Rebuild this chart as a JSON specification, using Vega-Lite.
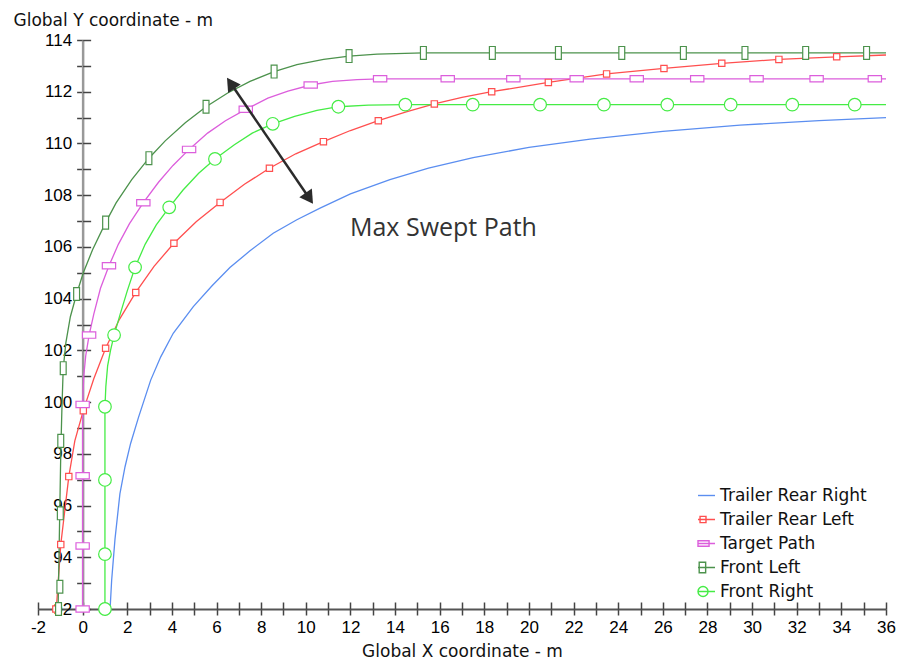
{
  "$schema": "https://vega.github.io/schema/vega-lite/v6.json",
  "width": 848,
  "height": 569,
  "autosize": {"type": "none"},
  "padding": {"left": 38, "top": 40, "right": 17, "bottom": 53},
  "background": "white",
  "config": {
    "view": {"stroke": null},
    "axis": {"grid": false, "labelFont": "Liberation Sans", "labelFontSize": 17, "labelColor": "#000", "titleFont": "DejaVu Sans", "titleFontSize": 17, "titleFontWeight": "normal", "titleColor": "#111"}
  },
  "datasets": {
    "paths": [
      {"s": "Trailer Rear Right", "x": 1.23, "y": 92},
      {"s": "Trailer Rear Right", "x": 1.3, "y": 93.1},
      {"s": "Trailer Rear Right", "x": 1.45, "y": 94.7},
      {"s": "Trailer Rear Right", "x": 1.67, "y": 96.45},
      {"s": "Trailer Rear Right", "x": 1.9, "y": 97.5},
      {"s": "Trailer Rear Right", "x": 2.15, "y": 98.4},
      {"s": "Trailer Rear Right", "x": 2.5, "y": 99.4},
      {"s": "Trailer Rear Right", "x": 3.05, "y": 100.85},
      {"s": "Trailer Rear Right", "x": 3.5, "y": 101.75},
      {"s": "Trailer Rear Right", "x": 4.06, "y": 102.66},
      {"s": "Trailer Rear Right", "x": 4.96, "y": 103.69},
      {"s": "Trailer Rear Right", "x": 5.8, "y": 104.5},
      {"s": "Trailer Rear Right", "x": 6.6, "y": 105.2},
      {"s": "Trailer Rear Right", "x": 7.5, "y": 105.85},
      {"s": "Trailer Rear Right", "x": 8.54, "y": 106.53},
      {"s": "Trailer Rear Right", "x": 9.6, "y": 107.05},
      {"s": "Trailer Rear Right", "x": 10.64, "y": 107.5},
      {"s": "Trailer Rear Right", "x": 12.0, "y": 108.05},
      {"s": "Trailer Rear Right", "x": 13.77, "y": 108.6},
      {"s": "Trailer Rear Right", "x": 15.5, "y": 109.05},
      {"s": "Trailer Rear Right", "x": 17.5, "y": 109.45},
      {"s": "Trailer Rear Right", "x": 20.0, "y": 109.85},
      {"s": "Trailer Rear Right", "x": 22.74, "y": 110.17},
      {"s": "Trailer Rear Right", "x": 26.0, "y": 110.47},
      {"s": "Trailer Rear Right", "x": 29.46, "y": 110.71},
      {"s": "Trailer Rear Right", "x": 33.0, "y": 110.88},
      {"s": "Trailer Rear Right", "x": 36.0, "y": 111.0},

      {"s": "Trailer Rear Left", "x": -1.18, "y": 92},
      {"s": "Trailer Rear Left", "x": -0.98, "y": 94.49},
      {"s": "Trailer Rear Left", "x": -0.62, "y": 97.12},
      {"s": "Trailer Rear Left", "x": -0.35, "y": 98.5},
      {"s": "Trailer Rear Left", "x": 0.03, "y": 99.67},
      {"s": "Trailer Rear Left", "x": 0.5, "y": 100.9},
      {"s": "Trailer Rear Left", "x": 1.03, "y": 102.08},
      {"s": "Trailer Rear Left", "x": 1.65, "y": 103.2},
      {"s": "Trailer Rear Left", "x": 2.38, "y": 104.24},
      {"s": "Trailer Rear Left", "x": 3.2, "y": 105.25},
      {"s": "Trailer Rear Left", "x": 4.09, "y": 106.14},
      {"s": "Trailer Rear Left", "x": 5.1, "y": 106.98},
      {"s": "Trailer Rear Left", "x": 6.16, "y": 107.72},
      {"s": "Trailer Rear Left", "x": 7.25, "y": 108.42},
      {"s": "Trailer Rear Left", "x": 8.37, "y": 109.04},
      {"s": "Trailer Rear Left", "x": 9.55, "y": 109.6},
      {"s": "Trailer Rear Left", "x": 10.79, "y": 110.07},
      {"s": "Trailer Rear Left", "x": 12.0, "y": 110.5},
      {"s": "Trailer Rear Left", "x": 13.25, "y": 110.88},
      {"s": "Trailer Rear Left", "x": 14.5, "y": 111.22},
      {"s": "Trailer Rear Left", "x": 15.76, "y": 111.53},
      {"s": "Trailer Rear Left", "x": 17.0, "y": 111.78},
      {"s": "Trailer Rear Left", "x": 18.33, "y": 112.0},
      {"s": "Trailer Rear Left", "x": 20.87, "y": 112.36},
      {"s": "Trailer Rear Left", "x": 23.48, "y": 112.69},
      {"s": "Trailer Rear Left", "x": 26.05, "y": 112.9},
      {"s": "Trailer Rear Left", "x": 28.64, "y": 113.1},
      {"s": "Trailer Rear Left", "x": 31.2, "y": 113.25},
      {"s": "Trailer Rear Left", "x": 33.79, "y": 113.35},
      {"s": "Trailer Rear Left", "x": 36.0, "y": 113.42},

      {"s": "Target Path", "x": 0, "y": 92},
      {"s": "Target Path", "x": 0, "y": 100.0},
      {"s": "Target Path", "x": 0.05, "y": 101.0},
      {"s": "Target Path", "x": 0.14, "y": 101.8},
      {"s": "Target Path", "x": 0.29, "y": 102.59},
      {"s": "Target Path", "x": 0.5, "y": 103.4},
      {"s": "Target Path", "x": 0.8, "y": 104.4},
      {"s": "Target Path", "x": 1.18, "y": 105.27},
      {"s": "Target Path", "x": 1.6, "y": 106.1},
      {"s": "Target Path", "x": 2.1, "y": 106.9},
      {"s": "Target Path", "x": 2.72, "y": 107.71},
      {"s": "Target Path", "x": 3.4, "y": 108.5},
      {"s": "Target Path", "x": 4.05, "y": 109.15},
      {"s": "Target Path", "x": 4.77, "y": 109.77},
      {"s": "Target Path", "x": 5.6, "y": 110.4},
      {"s": "Target Path", "x": 6.4, "y": 110.88},
      {"s": "Target Path", "x": 7.31, "y": 111.32},
      {"s": "Target Path", "x": 8.3, "y": 111.75},
      {"s": "Target Path", "x": 9.2, "y": 112.02},
      {"s": "Target Path", "x": 10.22, "y": 112.26},
      {"s": "Target Path", "x": 11.2, "y": 112.4},
      {"s": "Target Path", "x": 12.3, "y": 112.47},
      {"s": "Target Path", "x": 13.33, "y": 112.5},
      {"s": "Target Path", "x": 36.0, "y": 112.5},

      {"s": "Front Left", "x": -1.1, "y": 92},
      {"s": "Front Left", "x": -1.07, "y": 93.5},
      {"s": "Front Left", "x": -1.04, "y": 95.0},
      {"s": "Front Left", "x": -1.01, "y": 96.5},
      {"s": "Front Left", "x": -0.98, "y": 98.0},
      {"s": "Front Left", "x": -0.93, "y": 99.7},
      {"s": "Front Left", "x": -0.87, "y": 101.3},
      {"s": "Front Left", "x": -0.75, "y": 102.3},
      {"s": "Front Left", "x": -0.55, "y": 103.3},
      {"s": "Front Left", "x": -0.27, "y": 104.18},
      {"s": "Front Left", "x": 0.03, "y": 105.0},
      {"s": "Front Left", "x": 0.45, "y": 105.9},
      {"s": "Front Left", "x": 1.03, "y": 106.94},
      {"s": "Front Left", "x": 1.5, "y": 107.7},
      {"s": "Front Left", "x": 2.2, "y": 108.6},
      {"s": "Front Left", "x": 2.97, "y": 109.43},
      {"s": "Front Left", "x": 3.7, "y": 110.1},
      {"s": "Front Left", "x": 4.6, "y": 110.8},
      {"s": "Front Left", "x": 5.53, "y": 111.42},
      {"s": "Front Left", "x": 6.5, "y": 111.95},
      {"s": "Front Left", "x": 7.5, "y": 112.4},
      {"s": "Front Left", "x": 8.58, "y": 112.78},
      {"s": "Front Left", "x": 9.6, "y": 113.05},
      {"s": "Front Left", "x": 10.8, "y": 113.25},
      {"s": "Front Left", "x": 11.94, "y": 113.38},
      {"s": "Front Left", "x": 13.2, "y": 113.45},
      {"s": "Front Left", "x": 15.27, "y": 113.5},
      {"s": "Front Left", "x": 36.0, "y": 113.5},

      {"s": "Front Right", "x": 1.0, "y": 92},
      {"s": "Front Right", "x": 1.0, "y": 99.8},
      {"s": "Front Right", "x": 1.04, "y": 100.6},
      {"s": "Front Right", "x": 1.12, "y": 101.4},
      {"s": "Front Right", "x": 1.25, "y": 102.0},
      {"s": "Front Right", "x": 1.41, "y": 102.59},
      {"s": "Front Right", "x": 1.7, "y": 103.45},
      {"s": "Front Right", "x": 2.0, "y": 104.3},
      {"s": "Front Right", "x": 2.35, "y": 105.21},
      {"s": "Front Right", "x": 2.8, "y": 106.1},
      {"s": "Front Right", "x": 3.3, "y": 106.85},
      {"s": "Front Right", "x": 3.88, "y": 107.53},
      {"s": "Front Right", "x": 4.5, "y": 108.2},
      {"s": "Front Right", "x": 5.2, "y": 108.85},
      {"s": "Front Right", "x": 5.93, "y": 109.4},
      {"s": "Front Right", "x": 6.8, "y": 109.95},
      {"s": "Front Right", "x": 7.6, "y": 110.4},
      {"s": "Front Right", "x": 8.52, "y": 110.76},
      {"s": "Front Right", "x": 9.5, "y": 111.05},
      {"s": "Front Right", "x": 10.5, "y": 111.28},
      {"s": "Front Right", "x": 11.46, "y": 111.42},
      {"s": "Front Right", "x": 12.8, "y": 111.48},
      {"s": "Front Right", "x": 14.46, "y": 111.5},
      {"s": "Front Right", "x": 36.0, "y": 111.5}
    ],
    "markers": [
      {"s": "Trailer Rear Left", "x": -1.2, "y": 92.0},
      {"s": "Trailer Rear Left", "x": -0.98, "y": 94.49},
      {"s": "Trailer Rear Left", "x": -0.62, "y": 97.12},
      {"s": "Trailer Rear Left", "x": 0.03, "y": 99.67},
      {"s": "Trailer Rear Left", "x": 1.03, "y": 102.08},
      {"s": "Trailer Rear Left", "x": 2.38, "y": 104.24},
      {"s": "Trailer Rear Left", "x": 4.09, "y": 106.14},
      {"s": "Trailer Rear Left", "x": 6.16, "y": 107.72},
      {"s": "Trailer Rear Left", "x": 8.37, "y": 109.04},
      {"s": "Trailer Rear Left", "x": 10.79, "y": 110.07},
      {"s": "Trailer Rear Left", "x": 13.25, "y": 110.88},
      {"s": "Trailer Rear Left", "x": 15.76, "y": 111.53},
      {"s": "Trailer Rear Left", "x": 18.33, "y": 112.0},
      {"s": "Trailer Rear Left", "x": 20.87, "y": 112.36},
      {"s": "Trailer Rear Left", "x": 23.48, "y": 112.69},
      {"s": "Trailer Rear Left", "x": 26.05, "y": 112.9},
      {"s": "Trailer Rear Left", "x": 28.64, "y": 113.1},
      {"s": "Trailer Rear Left", "x": 31.2, "y": 113.25},
      {"s": "Trailer Rear Left", "x": 33.79, "y": 113.35},

      {"s": "Target Path", "x": 0, "y": 92},
      {"s": "Target Path", "x": 0, "y": 94.44},
      {"s": "Target Path", "x": 0, "y": 97.15},
      {"s": "Target Path", "x": 0, "y": 99.91},
      {"s": "Target Path", "x": 0.29, "y": 102.59},
      {"s": "Target Path", "x": 1.18, "y": 105.27},
      {"s": "Target Path", "x": 2.72, "y": 107.71},
      {"s": "Target Path", "x": 4.77, "y": 109.77},
      {"s": "Target Path", "x": 7.31, "y": 111.32},
      {"s": "Target Path", "x": 10.22, "y": 112.26},
      {"s": "Target Path", "x": 13.33, "y": 112.5},
      {"s": "Target Path", "x": 16.36, "y": 112.5},
      {"s": "Target Path", "x": 19.3, "y": 112.5},
      {"s": "Target Path", "x": 22.14, "y": 112.5},
      {"s": "Target Path", "x": 24.83, "y": 112.5},
      {"s": "Target Path", "x": 27.54, "y": 112.5},
      {"s": "Target Path", "x": 30.2, "y": 112.5},
      {"s": "Target Path", "x": 32.89, "y": 112.5},
      {"s": "Target Path", "x": 35.5, "y": 112.5},

      {"s": "Front Left", "x": -1.08, "y": 92.0},
      {"s": "Front Left", "x": -1.02, "y": 92.86},
      {"s": "Front Left", "x": -1.0, "y": 95.7},
      {"s": "Front Left", "x": -0.98, "y": 98.5},
      {"s": "Front Left", "x": -0.87, "y": 101.31},
      {"s": "Front Left", "x": -0.27, "y": 104.18},
      {"s": "Front Left", "x": 1.03, "y": 106.94},
      {"s": "Front Left", "x": 2.97, "y": 109.43},
      {"s": "Front Left", "x": 5.53, "y": 111.42},
      {"s": "Front Left", "x": 8.58, "y": 112.78},
      {"s": "Front Left", "x": 11.94, "y": 113.38},
      {"s": "Front Left", "x": 15.27, "y": 113.5},
      {"s": "Front Left", "x": 18.36, "y": 113.5},
      {"s": "Front Left", "x": 21.32, "y": 113.5},
      {"s": "Front Left", "x": 24.16, "y": 113.5},
      {"s": "Front Left", "x": 26.92, "y": 113.5},
      {"s": "Front Left", "x": 29.68, "y": 113.5},
      {"s": "Front Left", "x": 32.4, "y": 113.5},
      {"s": "Front Left", "x": 35.13, "y": 113.5},

      {"s": "Front Right", "x": 1.0, "y": 92},
      {"s": "Front Right", "x": 1.0, "y": 94.12},
      {"s": "Front Right", "x": 1.0, "y": 96.99},
      {"s": "Front Right", "x": 1.0, "y": 99.82},
      {"s": "Front Right", "x": 1.41, "y": 102.59},
      {"s": "Front Right", "x": 2.35, "y": 105.21},
      {"s": "Front Right", "x": 3.88, "y": 107.53},
      {"s": "Front Right", "x": 5.93, "y": 109.4},
      {"s": "Front Right", "x": 8.52, "y": 110.76},
      {"s": "Front Right", "x": 11.46, "y": 111.42},
      {"s": "Front Right", "x": 14.46, "y": 111.5},
      {"s": "Front Right", "x": 17.48, "y": 111.5},
      {"s": "Front Right", "x": 20.5, "y": 111.5},
      {"s": "Front Right", "x": 23.36, "y": 111.5},
      {"s": "Front Right", "x": 26.2, "y": 111.5},
      {"s": "Front Right", "x": 29.04, "y": 111.5},
      {"s": "Front Right", "x": 31.8, "y": 111.5},
      {"s": "Front Right", "x": 34.6, "y": 111.5}
    ]
  },
  "layer": [
    {
      "data": {"name": "paths"},
      "mark": {"type": "line", "strokeWidth": 1.3},
      "encoding": {
        "x": {
          "field": "x", "type": "quantitative",
          "scale": {"domain": [-2, 36], "nice": false, "zero": false},
          "axis": {
            "orient": "bottom",
            "values": [-2,-1,0,1,2,3,4,5,6,7,8,9,10,11,12,13,14,15,16,17,18,19,20,21,22,23,24,25,26,27,28,29,30,31,32,33,34,35,36],
            "labelExpr": "datum.value % 2 === 0 ? '' + datum.value : ''",
            "tickSize": 6, "tickColor": "#444", "tickWidth": 1.5,
            "domainColor": "#555", "domainWidth": 2,
            "labelPadding": 4, "labelFlush": false, "labelOverlap": false,
            "title": "Global X coordinate - m", "titlePadding": 8
          }
        },
        "y": {
          "field": "y", "type": "quantitative",
          "scale": {"domain": [92, 114], "nice": false, "zero": false},
          "axis": {
            "orient": "left", "offset": -44.63,
            "values": [92,93,94,95,96,97,98,99,100,101,102,103,104,105,106,107,108,109,110,111,112,113,114],
            "labelExpr": "datum.value % 2 === 0 ? '' + datum.value : ''",
            "tickSize": 6, "tickColor": "#444", "tickWidth": 1.5,
            "domainColor": "#999", "domainWidth": 2.5,
            "labelPadding": 5, "labelFlush": false, "labelOverlap": false,
            "title": "Global Y coordinate - m",
            "titleAngle": 0, "titleAlign": "left", "titleBaseline": "alphabetic",
            "titleX": -69.6, "titleY": -15
          }
        },
        "color": {
          "field": "s", "type": "nominal",
          "scale": {
            "domain": ["Trailer Rear Right", "Trailer Rear Left", "Target Path", "Front Left", "Front Right"],
            "range": ["#5b8ef0", "#ff4f4f", "#dc5edc", "#4c924c", "#45ec45"]
          },
          "legend": {
            "orient": "none", "legendX": 659, "legendY": 446,
            "title": null, "padding": 0,
            "labelFont": "DejaVu Sans", "labelFontSize": 17, "labelColor": "#111", "labelLimit": 300,
            "symbolSize": 289, "symbolStrokeWidth": 1.4, "rowPadding": 6, "labelOffset": 4,
            "encode": {
              "symbols": {
                "update": {
                  "shape": {"signal": "datum.value === 'Trailer Rear Right' ? 'M-1,0H1' : datum.value === 'Trailer Rear Left' ? 'M-1,0H1M-0.76,-0.37H-0.06V0.37H-0.76Z' : datum.value === 'Target Path' ? 'M-1,0H1M-1,-0.32H0.3V0.32H-1Z' : datum.value === 'Front Left' ? 'M-1,0H1M-0.86,-0.62H-0.1V0.62H-0.86Z' : 'M-1,0H1M0.18,0A0.59,0.59 0 1,1 -1,0A0.59,0.59 0 1,1 0.18,0Z'"},
                  "fill": {"value": "transparent"},
                  "strokeWidth": {"value": 1.4}
                }
              }
            }
          }
        },
        "order": {"value": null}
      }
    },
    {
      "data": {"name": "markers"},
      "mark": {"type": "point", "filled": false, "fill": "#ffffff", "fillOpacity": 1, "strokeWidth": 1.2, "size": 196, "opacity": 1},
      "encoding": {
        "x": {
          "field": "x", "type": "quantitative",
          "axis": {
            "orient": "bottom",
            "values": [-2,-1,0,1,2,3,4,5,6,7,8,9,10,11,12,13,14,15,16,17,18,19,20,21,22,23,24,25,26,27,28,29,30,31,32,33,34,35,36],
            "tickSize": -7, "tickColor": "#444", "tickWidth": 1.5,
            "labels": false, "domain": false, "title": null
          }
        },
        "y": {
          "field": "y", "type": "quantitative",
          "axis": {
            "orient": "left", "offset": -44.63,
            "values": [92,93,94,95,96,97,98,99,100,101,102,103,104,105,106,107,108,109,110,111,112,113,114],
            "tickSize": -8, "tickColor": "#444", "tickWidth": 1.5,
            "labels": false, "domain": false, "title": null
          }
        },
        "color": {"field": "s", "type": "nominal"},
        "shape": {
          "field": "s", "type": "nominal", "legend": null,
          "scale": {
            "domain": ["Trailer Rear Left", "Target Path", "Front Left", "Front Right"],
            "range": [
              "M-0.45,-0.45H0.45V0.45H-0.45Z",
              "M-0.95,-0.45H0.95V0.45H-0.95Z",
              "M-0.42,-0.92H0.42V0.92H-0.42Z",
              "M0.9,0A0.9,0.9 0 1,1 -0.9,0A0.9,0.9 0 1,1 0.9,0Z"
            ]
          }
        }
      }
    },
    {
      "data": {"values": [{"x": 6.635, "y": 112.326, "x2": 10.157, "y2": 107.879}]},
      "mark": {"type": "rule", "color": "#2b2b2b", "strokeWidth": 2.5},
      "encoding": {
        "x": {"field": "x", "type": "quantitative", "axis": null},
        "y": {"field": "y", "type": "quantitative", "axis": null},
        "x2": {"field": "x2"},
        "y2": {"field": "y2"}
      }
    },
    {
      "data": {"values": [{"x": 6.635, "y": 112.326}]},
      "mark": {"type": "point", "shape": "triangle-up", "filled": true, "color": "#2b2b2b", "size": 230, "angle": 325.7, "opacity": 1},
      "encoding": {
        "x": {"field": "x", "type": "quantitative", "axis": null},
        "y": {"field": "y", "type": "quantitative", "axis": null}
      }
    },
    {
      "data": {"values": [{"x": 10.157, "y": 107.879}]},
      "mark": {"type": "point", "shape": "triangle-up", "filled": true, "color": "#2b2b2b", "size": 230, "angle": 145.7, "opacity": 1},
      "encoding": {
        "x": {"field": "x", "type": "quantitative", "axis": null},
        "y": {"field": "y", "type": "quantitative", "axis": null}
      }
    },
    {
      "data": {"values": [{"label": "Max Swept Path", "x": 11.98, "y": 106.73}]},
      "mark": {"type": "text", "align": "left", "baseline": "middle", "font": "Open Sans", "fontSize": 25, "color": "#333"},
      "encoding": {
        "x": {"field": "x", "type": "quantitative", "axis": null},
        "y": {"field": "y", "type": "quantitative", "axis": null},
        "text": {"field": "label"}
      }
    }
  ],
  "resolve": {"axis": {"x": "independent", "y": "independent"}}
}
